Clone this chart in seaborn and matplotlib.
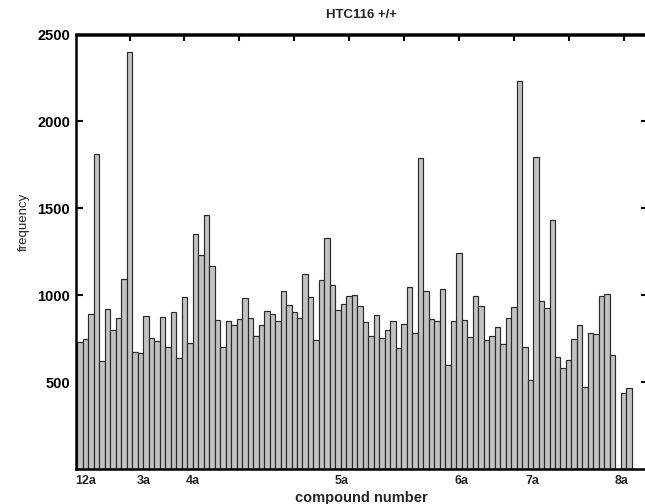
import matplotlib
matplotlib.use("Agg")
import matplotlib.pyplot as plt
import seaborn as sns
import pandas as pd

# ---- data ----
compound_ids = list(range(1, 102))
frequency = [
    729, 748, 892, 1815, 621, 920, 800, 866, 1094, 2402,
    674, 669, 882, 754, 739, 872, 702, 902, 640, 991,
    727, 1354, 1230, 1463, 1168, 860, 703, 850, 827, 864,
    986, 867, 764, 827, 911, 890, 852, 1024, 942, 901,
    868, 1122, 989, 744, 1090, 1330, 1058, 915, 948, 996,
    1004, 936, 844, 766, 885, 756, 800, 853, 697, 837,
    1049, 783, 1790, 1025, 862, 852, 1035, 600, 852, 1244,
    857, 757, 993, 936, 745, 766, 815, 722, 869, 933,
    2232, 704, 513, 1795, 968, 924, 1434, 646, 582, 630,
    748, 830, 472, 784, 779, 998, 1008, 658, 0, 436,
    466,
]
group_labels = ["12a", "3a", "4a", "5a", "6a", "7a", "8a"]
group_label_pos = [1.06, 11.5, 20.56, 47.71, 69.49, 82.43, 98.56]
top_ticks = [9, 19, 29, 39, 49, 59, 69, 79, 89, 99]
y_ticks = [500, 1000, 1500, 2000, 2500]

sns.set_theme(style="white")
plt.rcParams["font.family"] = ["Liberation Sans", "DejaVu Sans"]

fig = plt.figure(figsize=(6.45, 5.04), dpi=100)
W, H = 645, 504
ax = fig.add_axes([75.5 / W, 1 - 469 / H, (647.5 - 75.5) / W, (469 - 34.5) / H])

df = pd.DataFrame({"compound": compound_ids, "frequency": frequency})
sns.barplot(data=df, x="compound", y="frequency", order=compound_ids,
            color="#c2c2c2", saturation=1, edgecolor="#2a2a2a",
            linewidth=0.85, width=1.0, errorbar=None, ax=ax)

ax.set_xlim(-0.85, 103.35)
ax.set_ylim(0, 2500)
ax.set_yticks(y_ticks)
ax.set_xticks(group_label_pos)
ax.set_xticklabels(group_labels)
ax.tick_params(axis="x", length=0, pad=4, labelsize=9)
ax.tick_params(axis="y", direction="in", length=5, width=1.5,
               labelsize=10.5, pad=4, right=True, left=True, colors="black")
for lab in ax.get_xticklabels() + ax.get_yticklabels():
    lab.set_fontweight("bold")

secax = ax.secondary_xaxis("top")
secax.set_xticks(top_ticks)
secax.set_xticklabels([])
secax.tick_params(direction="in", length=5, width=1.5, colors="black")
secax.spines["top"].set_linewidth(1.8)
secax.spines["top"].set_color("black")

for s in ax.spines.values():
    s.set_visible(True)
    s.set_color("black")
    s.set_linewidth(1.8)

ax.set_xlabel("compound number", fontweight="bold", fontsize=10.5, labelpad=3)
ax.set_ylabel("frequency", fontsize=9.5)
ax.yaxis.set_label_coords(-0.08, 0.568)
ax.set_title("HTC116 +/+", fontweight="bold", fontsize=9.5, pad=12)

fig.savefig("out.png", dpi=100, facecolor="white")
